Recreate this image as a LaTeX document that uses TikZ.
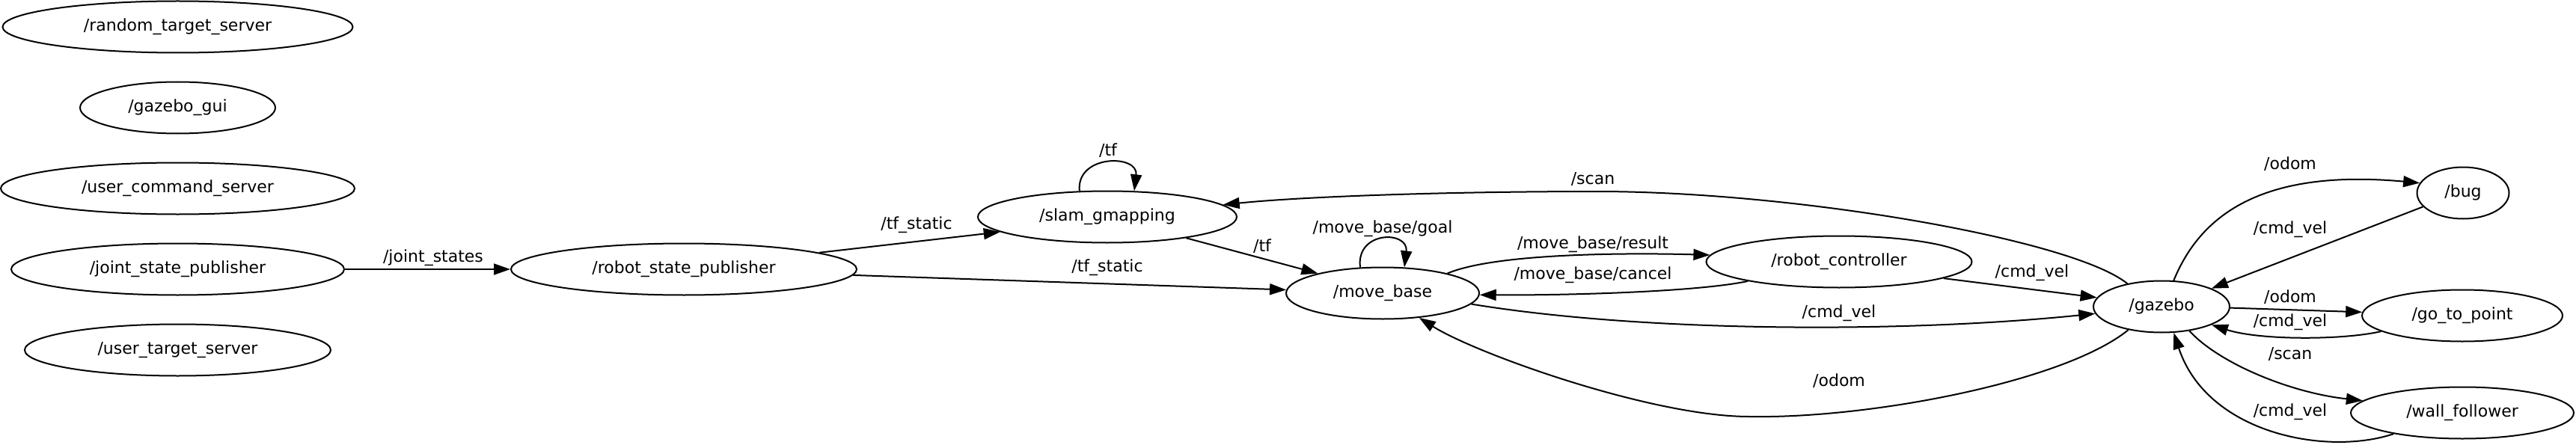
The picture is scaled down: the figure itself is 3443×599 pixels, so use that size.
\documentclass[tikz,border=0pt]{standalone}
\usepackage{fontspec}
\setmainfont{DejaVu Sans}
\usetikzlibrary{arrows.meta,shapes.geometric}
\begin{document}
\begin{tikzpicture}[x=1pt,y=-1pt,
  nd/.style={draw,ellipse,line width=2pt,inner sep=0pt,minimum height=69pt,text height=16pt,text depth=5pt,font=\fontsize{22}{26}\selectfont},
  lbl/.style={inner sep=0pt,text height=16pt,text depth=5pt,font=\fontsize{22}{26}\selectfont},
  edge/.style={line width=2pt,-{Triangle[length=22pt,width=15pt]}}]
\fill[white] (0,0) rectangle (3443,599);
\path[use as bounding box] (0,0) rectangle (3443,599);
% nodes
\node[nd,minimum width=468pt] (rts) at (237.5,36) {/random\_target\_server};
\node[nd,minimum width=261pt] (gui) at (237.5,144) {/gazebo\_gui};
\node[nd,minimum width=473pt] (ucs) at (237.5,252) {/user\_command\_server};
\node[nd,minimum width=445pt] (jsp) at (237.5,360) {/joint\_state\_publisher};
\node[nd,minimum width=409pt] (uts) at (237.5,468) {/user\_target\_server};
\node[nd,minimum width=462pt] (rsp) at (914,360) {/robot\_state\_publisher};
\node[nd,minimum width=346pt] (slam) at (1480,290) {/slam\_gmapping};
\node[nd,minimum width=258pt] (mb) at (1848,392) {/move\_base};
\node[nd,minimum width=355pt] (rc) at (2458,350) {/robot\_controller};
\node[nd,minimum width=182pt] (gz) at (2889,410) {/gazebo};
\node[nd,minimum width=123pt] (bug) at (3292,258) {/bug};
\node[nd,minimum width=268pt] (gtp) at (3291,422) {/go\_to\_point};
\node[nd,minimum width=298pt] (wf) at (3291,552) {/wall\_follower};
% edges
\draw[edge] (jsp.east) -- (rsp.west);
\draw[edge] (rsp.7) -- (slam.188);
\draw[edge] (rsp.-2) -- (mb.178);
\draw[edge] (slam.-15) -- (mb.163);
\draw[edge] (slam.137) .. controls (1438,206) and (1522,206) .. (slam.44);
\draw[edge] (mb.131) .. controls (1812,308) and (1883,308) .. (mb.50);
\draw[edge] (mb.17) .. controls (2000,338) and (2180,338) .. (rc.177);
\draw[edge] (rc.192) .. controls (2270,390) and (2100,395) .. (mb.-1);
\draw[edge] (rc.-9) -- (gz.172);
\draw[edge] (mb.-7) .. controls (2200,445) and (2550,445) .. (gz.186);
\draw[edge] (gz.215) .. controls (2760,510) and (2500,560) .. (2338,557) .. controls (2208,557) and (1973,473) .. (mb.-34);
\draw[edge] (gz.146) .. controls (2770,320) and (2400,256) .. (2134,256) .. controls (1950,256) and (1750,262) .. (slam.6);
\draw[edge] (gz.65) .. controls (2940,290) and (3020,225) .. (bug.167);
\draw[edge] (bug.199) -- (gz.20);
\draw[edge] (gz.-1) -- (gtp.178);
\draw[edge] (gtp.191) .. controls (3130,455) and (3020,455) .. (gz.-20);
\draw[edge] (gz.-41) .. controls (2965,485) and (3060,525) .. (wf.173);
\draw[edge] (wf.197) .. controls (3110,610) and (2950,580) .. (gz.-65);
% labels
\node[lbl] (ljs) at (579,345) {/joint\_states};
\node[lbl] (lts1) at (1225,301) {/tf\_static};
\node[lbl] (lts2) at (1480,358) {/tf\_static};
\node[lbl] (ltf1) at (1481,203) {/tf};
\node[lbl] (ltf2) at (1687,331) {/tf};
\node[lbl] (lgoal) at (1848,306) {/move\_base/goal};
\node[lbl] (lres) at (2129,327) {/move\_base/result};
\node[lbl] (lcan) at (2129,368) {/move\_base/cancel};
\node[lbl] (lscan1) at (2129,241) {/scan};
\node[lbl] (lcmd1) at (2458,419) {/cmd\_vel};
\node[lbl] (lodom1) at (2458,511) {/odom};
\node[lbl] (lcmd2) at (2716,365) {/cmd\_vel};
\node[lbl] (lodom2) at (3061,221) {/odom};
\node[lbl] (lcmd3) at (3061,307) {/cmd\_vel};
\node[lbl] (lodom3) at (3061,399) {/odom};
\node[lbl] (lcmd4) at (3061,431) {/cmd\_vel};
\node[lbl] (lscan2) at (3061,475) {/scan};
\node[lbl] (lcmd5) at (3061,551) {/cmd\_vel};
\end{tikzpicture}
\end{document}
